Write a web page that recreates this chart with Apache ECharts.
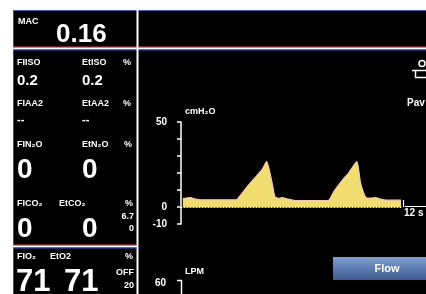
<!DOCTYPE html>
<html lang="en">
<head>
    <meta charset="UTF-8">
    <title>Pav</title>
    <script src="https://cdn.jsdelivr.net/npm/echarts@6/dist/echarts.min.js"></script>
    <style>
        html, body { margin: 0; padding: 0; background: #fff; }
    </style>
</head>
<body>
<div id='box' style="width: 426px;height:294px;"></div>
<script>
    // pressure trace, seconds / cmH2O
    var times = [0.1, 0.3, 0.5, 0.8, 1.1, 3.0, 3.2, 3.6, 4.0, 4.4, 4.65, 4.95, 5.1, 5.3, 5.5, 5.8, 6.2, 7.9, 8.05, 8.3, 8.7, 9.1, 9.55, 9.75, 10.05, 10.3, 10.55, 10.9, 11.2, 11.95];
    var pressure = [5, 5.2, 5.6, 4.6, 4.2, 4.2, 6.5, 12, 17, 22, 26.7, 14, 6, 5.1, 5.5, 4.6, 3.8, 3.7, 4.2, 9, 15, 20, 26.7, 14, 5.5, 5.3, 5.5, 4.5, 4, 4];
    var yTicks = [50, 0, -10];

    var myChart = echarts.init(document.getElementById('box'));

    var FONT = '"Liberation Sans", Arial, sans-serif';

    function txt(s, x, y, size, align) {
        return {
            type: 'text',
            x: x, y: y, z: 10,
            style: {
                text: s,
                fill: '#fff',
                font: 'bold ' + size + 'px ' + FONT,
                textAlign: align || 'left',
                textVerticalAlign: 'middle'
            }
        };
    }
    function line(x1, y1, x2, y2, color, w) {
        return {
            type: 'line', z: 10,
            shape: {x1: x1, y1: y1, x2: x2, y2: y2},
            style: {stroke: color, lineWidth: w || 1}
        };
    }

    var pts = times.map(function (t, i) { return [t, pressure[i]]; });

    var option = {
        backgroundColor: '#000',
        animation: false,
        grid: {left: 181, right: 24, top: 122, bottom: 70},
        xAxis: {
            type: 'value', min: 0, max: 12,
            z: 5,
            axisLine: {show: true, onZero: true, lineStyle: {color: '#fff', type: [1, 2], width: 1}},
            axisTick: {show: false},
            axisLabel: {show: false},
            splitLine: {show: false}
        },
        yAxis: {
            type: 'value', min: -10, max: 50, interval: 10,
            axisLine: {show: true, lineStyle: {color: '#fff', width: 1.5}},
            axisTick: {show: true, length: 4, lineStyle: {color: '#fff', width: 1.5}},
            splitLine: {show: false},
            axisLabel: {
                color: '#fff', fontWeight: 'bold', fontSize: 10, fontFamily: FONT, margin: 14,
                formatter: function (v) { return yTicks.indexOf(v) >= 0 ? String(v) : ''; }
            }
        },
        series: [{
            type: 'line',
            data: pts,
            symbol: 'none',
            smooth: 0.2,
            lineStyle: {color: '#f6c8b8', width: 1.2},
            areaStyle: {color: '#f2dd70', opacity: 1}
        }],
        graphic: [
            // white surround of the screen
            {type: 'rect', z: 20, shape: {x: 0, y: 0, width: 13, height: 294}, style: {fill: '#fff'}},
            {type: 'rect', z: 20, shape: {x: 0, y: 0, width: 426, height: 10}, style: {fill: '#fff'}},
            line(13, 10.5, 426, 10.5, '#4a5cb0', 1),
            line(13.5, 10, 13.5, 294, '#3a4a90', 1),
            // frame lines
            line(13, 47, 426, 47, '#d04050', 1),
            line(13, 48.5, 426, 48.5, '#fff', 2),
            line(13, 50, 426, 50, '#4050c0', 1),
            line(137.5, 10, 137.5, 294, '#fff', 2),
            line(13, 245, 137, 245, '#d04050', 1),
            line(13, 246.5, 137, 246.5, '#fff', 2),
            line(13, 248, 137, 248, '#4050c0', 1),

            txt('MAC', 18, 22, 9),
            txt('0.16', 56, 35, 26),

            txt('FIISO', 17, 62.5, 9), txt('EtISO', 82, 62.5, 9), txt('%', 131, 62.5, 9, 'right'),
            txt('0.2', 17, 81, 15), txt('0.2', 82, 81, 15),
            txt('FIAA2', 17, 103.5, 9), txt('EtAA2', 82, 103.5, 9), txt('%', 131, 103.5, 9, 'right'),
            txt('--', 17, 120, 11), txt('--', 82, 120, 11),
            txt('FIN\u2082O', 17, 145, 9), txt('EtN\u2082O', 82, 145, 9), txt('%', 132, 145, 9, 'right'),
            txt('0', 17, 170, 28), txt('0', 82, 170, 28),
            txt('FICO\u2082', 17, 203.5, 9), txt('EtCO\u2082', 59, 203.5, 9), txt('%', 133, 203.5, 9, 'right'),
            txt('6.7', 134, 216.5, 9, 'right'), txt('0', 134, 228.5, 9, 'right'),
            txt('0', 17, 229, 28), txt('0', 82, 229, 28),
            txt('FIO\u2082', 17, 256.5, 9), txt('EtO2', 50, 256.5, 9), txt('%', 133, 256.5, 9, 'right'),
            txt('71', 16, 282, 31), txt('71', 64, 282, 31),
            txt('OFF', 134, 272.5, 9, 'right'), txt('20', 134, 286, 9, 'right'),

            // right panel labels
            txt('cmH\u2082O', 185, 111.5, 9),
            txt('Pav', 407, 103.5, 10),
            txt('12 s', 404, 213, 10),
            line(403.5, 200, 403.5, 207, '#fff', 1.2),
            line(405, 206.5, 426, 206.5, '#fff', 1),
            // small icon top right
            {type: 'circle', z: 10, shape: {cx: 422, cy: 63.5, r: 3}, style: {fill: 'none', stroke: '#fff', lineWidth: 1.5}},
            line(412, 70.5, 426, 70.5, '#fff', 1.5),
            line(415.5, 70, 415.5, 78, '#fff', 1.5),
            line(415, 77.5, 426, 77.5, '#fff', 1.5),

            // flow panel
            txt('LPM', 185, 272, 9),
            txt('60', 166, 283, 10, 'right'),
            line(181.5, 280, 181.5, 294, '#fff', 1.5),
            line(177, 280.5, 182, 280.5, '#fff', 1.5),
            {
                type: 'rect', z: 10,
                shape: {x: 333, y: 257, width: 93, height: 23},
                style: {
                    fill: new echarts.graphic.LinearGradient(0, 0, 0, 1, [
                        {offset: 0, color: '#7f9fd0'},
                        {offset: 1, color: '#3c5c92'}
                    ])
                }
            },
            txt('Flow', 387, 268.5, 11, 'center')
        ]
    };
    myChart.setOption(option);
</script>
</body>
</html>
